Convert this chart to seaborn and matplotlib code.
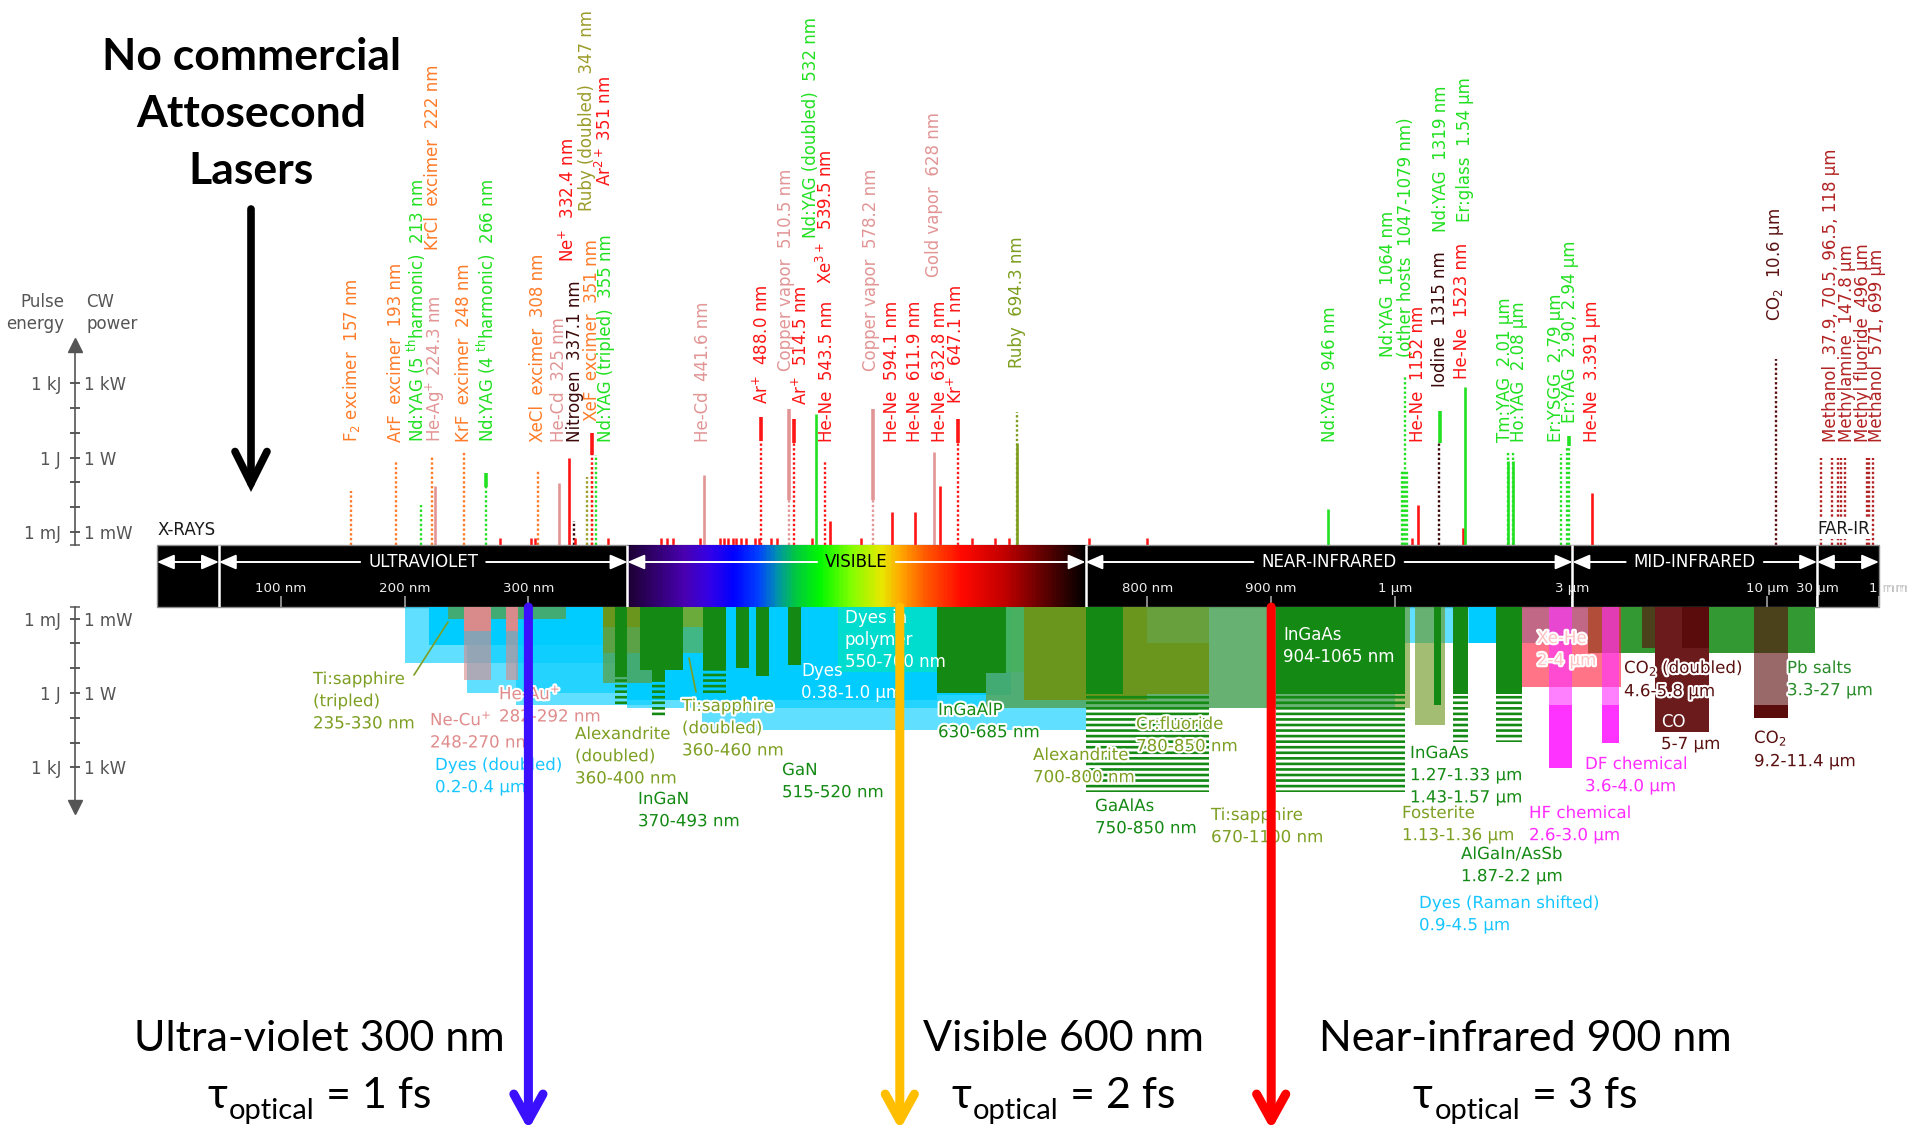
import numpy as np
import matplotlib
matplotlib.use("Agg")
import matplotlib.pyplot as plt
import matplotlib.patheffects as pe
import matplotlib.transforms as mtransforms
from matplotlib.colors import LinearSegmentedColormap, to_rgba
from matplotlib.patches import Rectangle
from matplotlib.ticker import FixedLocator, NullLocator, FixedFormatter
import seaborn as sns

# ============================ DATA ============================
# --- upper panel: individual laser lines (wavelength in nm, log10 of power/energy)
LINE_NM = [157, 193, 213, 222, 224.3, 248, 266, 308, 325, 332.4, 337.1, 347, 351, 351, 355,
           441.6, 488.0, 510.5, 514.5, 532, 539.5, 543.5, 578.2, 594.1, 611.9, 628, 632.8, 647.1, 694.3,
           946, 1047, 1053, 1064, 1079, 1152, 1315, 1319, 1523, 1540, 2010, 2080, 2790, 2900, 2940, 3391,
           10600, 37900, 70500, 96500, 118000, 147800, 496000, 571000, 699000]
LINE_KIND = ['exc', 'exc', 'nd', 'exc', 'pk', 'exc', 'nd', 'exc', 'pk', 'rd', 'dk', 'rb2', 'exc', 'rd', 'nd',
             'pk', 'rd', 'pk', 'rd', 'nd', 'rd', 'rd', 'pk', 'rd', 'rd', 'pk', 'rd', 'rd', 'rb',
             'nd', 'nd', 'nd', 'nd', 'nd', 'rd', 'dk', 'nd', 'rd', 'nd', 'nd', 'nd', 'nd', 'nd', 'nd', 'rd',
             'co2', 'far', 'far', 'far', 'far', 'far', 'far', 'far', 'far']
N = np.nan
B = -99  # "from the bar"
LINE_SOLID_LO = [N, N, N, N, B, N, -1.2, N, B, B, N, N, N, 0.1, N,
                 B, 0.67, -1.7, 0.6, B, N, B, -1.7, B, B, B, B, 0.6, B,
                 B, N, N, N, N, B, N, 0.6, B, B, B, B, N, N, 0.46, B,
                 N, N, N, N, N, N, N, N, N]
LINE_SOLID_HI = [N, N, N, N, -1.15, N, -0.62, N, -1.02, -0.02, N, N, N, 1.0, N,
                 -0.70, 1.64, 1.96, 1.56, 1.76, N, -2.56, 1.96, -2.19, -2.19, 0.23, -1.15, 1.56, 0.6,
                 -2.07, N, N, N, N, -1.9, N, 1.89, -2.84, 2.83, -0.14, -0.14, N, N, 0.87, -1.43,
                 N, N, N, N, N, N, N, N, N]
LINE_DOT_HI = [-1.35, -0.18, -1.9, 0.02, N, 0.27, -1.2, -0.54, N, N, -2.56, -0.78, -0.26, 0.1, 0.1,
               N, 0.67, -1.7, 0.6, N, -0.18, N, -1.7, N, N, N, N, 0.6, 1.84,
               N, -0.54, -0.54, 3.33, -0.54, N, 0.6, N, N, N, 0.25, 0.25, 0.15, 0.46, 0.46, N,
               3.98, -0.02, -0.02, -0.02, -0.02, -0.02, -0.02, -0.02, -0.02]
WEAK_NM = [277, 302, 305, 338, 364, 407, 412, 417, 439, 455, 458, 461, 465, 468, 472, 476,
           483, 486, 496, 501, 529, 569, 658, 677, 688, 753, 800, 1110]
WEAK_TOP = -3.25

# --- upper panel labels
LABEL_TEXT = ["F$_2$ excimer  157 nm", "ArF  excimer  193 nm", "Nd:YAG (5 $^{\\mathrm{th}}$harmonic)  213 nm",
              "He-Ag$^{+}$ 224.3 nm", "KrCl  excimer  222 nm", "KrF  excimer  248 nm",
              "Nd:YAG (4 $^{\\mathrm{th}}$harmonic)  266 nm", "XeCl  excimer  308 nm", "He-Cd  325 nm",
              "Nitrogen  337.1 nm", "Ne$^{+}$  332.4 nm", "Ruby (doubled)  347 nm", "Ar$^{2+}$ 351 nm",
              "XeF  excimer  351 nm", "Nd:YAG (tripled)  355 nm", "He-Cd  441.6 nm", "Ar$^{+}$  488.0 nm",
              "Copper vapor  510.5 nm", "Ar$^{+}$  514.5 nm", "Nd:YAG (doubled)  532 nm", "He-Ne  543.5 nm",
              "Xe$^{3+}$  539.5 nm", "Copper vapor  578.2 nm", "He-Ne  594.1 nm", "He-Ne  611.9 nm",
              "Gold vapor  628 nm", "He-Ne  632.8 nm", "Kr$^{+}$  647.1 nm", "Ruby  694.3 nm",
              "Nd:YAG  946 nm", "Nd:YAG  1064 nm\n(other hosts  1047-1079 nm)", "He-Ne  1152 nm",
              "Iodine  1315 nm", "Nd:YAG  1319 nm", "He-Ne  1523 nm", "Er:glass  1.54 µm",
              "Tm:YAG  2.01 µm", "Ho:YAG  2.08 µm", "Er:YSGG  2.79 µm", "Er:YAG  2.90, 2.94 µm",
              "He-Ne  3.391 µm", "CO$_2$  10.6 µm", "Methanol  37.9, 70.5, 96.5, 118 µm",
              "Methylamine  147.8 µm", "Methyl fluoride  496 µm", "Methanol  571, 699 µm"]
LABEL_NM = [157, 193, 213, 224.3, 222, 248, 266, 308, 325, 337.1, 332.4, 347, 351, 351, 355, 441.6, 488.0,
            510.5, 514.5, 532, 543.5, 539.5, 578.2, 594.1, 611.9, 628, 632.8, 647.1, 694.3, 946, 1064, 1152,
            1315, 1319, 1523, 1540, 2010, 2080, 2790, 2940, 3391, 10600, 37900, 147800, 496000, 699000]
LABEL_KIND = ['exc', 'exc', 'nd', 'pk', 'exc', 'exc', 'nd', 'exc', 'pk', 'dk', 'rd', 'rb2', 'rd', 'exc', 'nd',
              'pk', 'rd', 'pk', 'rd', 'nd', 'rd', 'rd', 'pk', 'rd', 'rd', 'pk', 'rd', 'rd', 'rb', 'nd', 'nd',
              'rd', 'dk', 'nd', 'rd', 'nd', 'nd', 'nd', 'nd', 'nd', 'rd', 'co2', 'far', 'far', 'far', 'far']

# --- lower panel: gain-medium tuning ranges (nm, log10 power; None = from the bar)
LOW_W0 = [380, 440, 200, 250, 290, 900, 220, 380, 630, 1580, 550, 670, 235, 360, 360, 360, 425,
          248, 248, 282, 282, 700, 780, 780, 370, 370, 390, 400, 400, 441, 441, 468, 484, 510,
          630, 670, 750, 750, 904, 904, 1130, 1270, 1430, 1430, 1870, 1870, 3300, 2200, 2600, 2600,
          3600, 3600, 4600, 5000, 5900, 9200, 9200]
LOW_W1 = [1000, 750, 400, 400, 400, 4500, 400, 630, 690, 1870, 700, 1100, 330, 460, 400, 400, 441,
          270, 270, 292, 292, 800, 850, 850, 380, 380, 425, 410, 410, 460, 460, 478, 494, 520,
          670, 686, 780, 850, 1065, 1065, 1360, 1330, 1570, 1570, 2200, 2200, 27000, 4050, 3000, 3000,
          4000, 4000, 5800, 7000, 7000, 11400, 11400]
LOW_TOP = [None, None, None, None, None, None, None, None, None, None, None, None, None, None, None, None, None,
           None, -2.5, None, -2.5, None, None, -2.0, None, -0.64, None, None, -0.52, None, -0.92, None, None, None,
           None, None, None, 0.04, None, 0.04, None, None, None, 0.04, None, 0.04, None, None, None, 0.49,
           None, 0.49, None, None, None, None, 0.49]
LOW_BOT = [0.6, 1.5, -1.21, 0.0, 0.49, -2.0, -1.93, 0.29, 0.08, -2.0, -0.84, 0.61, -3.0, -1.61, -2.66, -0.40, -2.66,
           -2.5, -0.52, -2.5, -0.52, 0.29, -2.0, 0.04, -0.64, 0.49, -0.92, -0.52, 1.01, -0.92, 0.08, -1.0, -0.68, -1.13,
           0.0, -0.8, 0.04, 4.0, 0.04, 4.0, 1.29, 0.49, 0.04, 1.98, 0.04, 1.98, -1.61, -0.24, 0.49, 3.03,
           0.49, 2.02, -1.81, 1.58, -1.8, 0.49, 1.01]
LOW_KIND = ['cyan', 'cyan', 'cyan', 'cyan', 'cyan', 'cyan', 'cyan', 'cyan', 'cyan', 'cyan', 'teal', 'olive', 'olive',
            'olive_l', 'olive', 'olive', 'olive_l', 'pink', 'pink', 'pink', 'pink', 'olive', 'olive', 'olive',
            'green', 'green', 'green', 'green', 'green', 'green', 'green', 'green', 'green', 'green',
            'green', 'green', 'green', 'green', 'green', 'green', 'olive', 'green', 'green', 'green', 'green', 'green',
            'pb', 'red', 'mag', 'mag', 'mag', 'mag', 'maroon', 'maroon_l', 'maroon', 'maroon', 'maroon']
LOW_FILL = ['check', 'check', 'check', 'check', 'check', 'check', 'solid', 'solid', 'solid', 'solid', 'check', 'check',
            'check', 'check', 'solid', 'check', 'solid', 'solid', 'check', 'solid', 'check', 'solid', 'check', 'solid',
            'solid', 'stripe', 'solid', 'solid', 'stripe', 'solid', 'stripe', 'solid', 'solid', 'solid',
            'solid', 'solid', 'solid', 'stripe', 'solid', 'stripe', 'check', 'solid', 'solid', 'stripe', 'solid', 'stripe',
            'solid', 'check', 'check', 'solid', 'check', 'solid', 'check', 'solid', 'solid', 'check', 'solid']

LOW_LABELS = ["Ti:sapphire\n(tripled)\n235-330 nm", "Ne-Cu$^{+}$\n248-270 nm", "He-Au$^{+}$\n282-292 nm",
              "Dyes (doubled)\n0.2-0.4 µm", "Alexandrite\n(doubled)\n360-400 nm", "InGaN\n370-493 nm",
              "Ti:sapphire\n(doubled)\n360-460 nm", "GaN\n515-520 nm", "Dyes\n0.38-1.0 µm",
              "Dyes in\npolymer\n550-700 nm", "InGaAlP\n630-685 nm", "Alexandrite\n700-800 nm",
              "Cr:fluoride\n780-850 nm", "GaAlAs\n750-850 nm", "Ti:sapphire\n670-1100 nm",
              "InGaAs\n904-1065 nm", "InGaAs\n1.27-1.33 µm\n1.43-1.57 µm", "Fosterite\n1.13-1.36 µm",
              "AlGaIn/AsSb\n1.87-2.2 µm", "Dyes (Raman shifted)\n0.9-4.5 µm", "Xe-He\n2-4 µm",
              "HF chemical\n2.6-3.0 µm", "DF chemical\n3.6-4.0 µm", "CO$_2$ (doubled)\n4.6-5.8 µm",
              "CO", "5-7 µm", "CO$_2$\n9.2-11.4 µm", "Pb salts\n3.3-27 µm"]
LOW_LABEL_KIND = ['olive_t', 'pink_t', 'pink_t', 'cyan_t', 'olive_t', 'green_t', 'olive_t', 'green_t', 'white',
                  'white', 'green_t', 'olive_t', 'olive_t', 'green_t', 'olive_t', 'white', 'green_t', 'olive_t',
                  'green_t', 'cyan_t', 'xehe_t', 'mag_t', 'mag_t', 'maroon_t', 'white', 'maroon_t', 'maroon_t', 'pb_t']

# --- spectral bar
REGION_EDGES = [0, 50, 380, 750, 3000, 30000, 1e6]
REGION_NAMES = ["", "ULTRAVIOLET", "VISIBLE", "NEAR-INFRARED", "MID-INFRARED", ""]
TICK_NM = [100, 200, 300, 400, 500, 600, 700, 800, 900, 1000, 3000, 10000, 30000, 1e6]
TICK_LABELS = ["100 nm", "200 nm", "300 nm", "400 nm", "500 nm", "600 nm", "700 nm", "800 nm", "900 nm",
               "1 µm", "3 µm", "10 µm", "30 µm", "1 mm"]
VIS_STOPS = [(380, '#1c0033'), (400, '#30006a'), (425, '#4800b0'), (445, '#3400e6'), (465, '#0000ff'),
             (485, '#0040ff'), (500, '#0090b0'), (515, '#00c840'), (535, '#00f800'), (560, '#80ff00'),
             (585, '#e8e800'), (600, '#ffa800'), (620, '#ff5a00'), (650, '#ff0800'), (685, '#c00000'),
             (718, '#5a0000'), (750, '#000000')]

# --- power axis
POWER_EXP = [-3, -2, -1, 0, 1, 2, 3]
ENERGY_LABELS = ["1 mJ", "", "", "1 J", "", "", "1 kJ"]
CW_LABELS = ["1 mW", "", "", "1 W", "", "", "1 kW"]

# --- annotations
TITLE_LINES = ["No commercial", "Attosecond", "Lasers"]
MARK_NM = [300, 600, 900]
MARK_NAMES = ["Ultra-violet 300 nm", "Visible 600 nm", "Near-infrared 900 nm"]
MARK_FS = ["1", "2", "3"]

# ============================ STYLE / LAYOUT ============================
sns.set_theme(style="white")
plt.rcParams["font.family"] = ["DejaVu Sans"]
plt.rcParams["mathtext.fontset"] = "dejavusans"
plt.rcParams["hatch.linewidth"] = 1.9

W_PX, H_PX, DPI = 1909, 1134, 100
BAR_TOP, BAR_BOT = 545, 607
PX_DEC = 24.8
Y1M_TOP, Y1M_BOT = 532.0, 618.5
AXIS_XPX = 75
GREY = '#555555'
CHECK_ALPHA = 0.62

LINE_COLORS = {'exc': '#ff7b29', 'nd': '#22e022', 'pk': '#e29595', 'rd': '#ff1515', 'dk': '#3a0808',
               'rb2': '#9c9c2c', 'rb': '#7d9e1f', 'co2': '#5c1111', 'far': '#b22222'}
LOW_COLORS = {'cyan': '#00ccff', 'teal': '#00e8b0', 'olive': '#6b961e', 'olive_l': '#6aab3c', 'pink': '#d98a8a',
              'green': '#148a14', 'pb': '#339933', 'red': '#ff1f3d', 'mag': '#ff33ff', 'maroon': '#5a0c0c',
              'maroon_l': '#6b1b1b'}
TEXT_COLORS = {'olive_t': '#7d9f22', 'pink_t': '#e08c8c', 'cyan_t': '#18c6ff', 'green_t': '#148a14',
               'white': '#ffffff', 'xehe_t': '#ffc4c4', 'mag_t': '#ff2cff', 'maroon_t': '#5a1010', 'pb_t': '#2a8c2a'}

# label layout (pixels)
LABEL_BOTTOM_PX = [442, 442, 442, 442, 250, 442, 442, 442, 442, 442, 262, 211, 186, 421, 442, 442, 404,
                   371, 405, 238, 442, 284, 371, 442, 442, 277, 442, 404, 368, 442, 357, 442, 387, 232,
                   379, 222, 442, 442, 442, 423, 442, 321, 442, 442, 442, 442]
LABEL_DX_PX = [0, 0, -4, 1, 1, 0, 0, 0, 0, 1, 0, 0, 13, 0, 10, -1, 1, -3, 7, -5, -3, 1, -2, 0, 0, 0, 0,
               -2, 0, 2, -8, 0, 1, 1, -1, 0, -3, 6, -5, 1, 0, -1, 10, 2, -4, 4]
LOW_LABEL_XY = [(313, 670), (430, 710), (499, 684), (435, 756), (575, 725), (638, 790), (682, 697),
                (782, 761), (801, 662), (845, 609), (938, 701), (1033, 746), (1136, 715), (1095, 797),
                (1211, 806), (1283, 626), (1410, 744), (1402, 804), (1461, 845), (1419, 894), (1537, 629),
                (1529, 804), (1585, 755), (1624, 657), (1661, 713), (1661, 735), (1754, 728), (1787, 659)]


def _px_of_nm(w):
    w = np.atleast_1d(np.asarray(w, float))
    out = np.empty_like(w)
    lin = w <= 1000
    out[lin] = 157 + 1.238 * w[lin]
    m1 = (w > 1000) & (w <= 12000)
    out[m1] = 1395 + 372 * np.log10(w[m1] / 1000)
    m2 = (w > 12000) & (w <= 30000)
    out[m2] = 1796.5 + 20.5 * np.log10(w[m2] / 12000) / np.log10(2.5)
    m3 = w > 30000
    out[m3] = 1817 + 40.7 * np.log10(w[m3] / 30000)
    return out


_W = np.unique(np.concatenate([np.linspace(-400, 1000, 15), np.geomspace(1000, 12000, 800),
                               np.geomspace(12000, 30000, 100), np.geomspace(30000, 1e7, 800)]))
_P = _px_of_nm(_W)


def fwd(w):
    return np.interp(np.asarray(w, float), _W, _P)


def inv(p):
    return np.interp(np.asarray(p, float), _P, _W)


fig = plt.figure(figsize=(W_PX / DPI, H_PX / DPI), dpi=DPI)
PX = mtransforms.Affine2D().scale(1 / W_PX, -1 / H_PX).translate(0, 1) + fig.transFigure

ax_top = fig.add_axes([0, 1 - BAR_TOP / H_PX, 1, BAR_TOP / H_PX])
ax_bar = fig.add_axes([0, 1 - BAR_BOT / H_PX, 1, (BAR_BOT - BAR_TOP) / H_PX])
ax_bot = fig.add_axes([0, 0, 1, 1 - BAR_BOT / H_PX])
for ax in (ax_top, ax_bar, ax_bot):
    ax.set_xscale('function', functions=(fwd, inv))
    ax.set_xlim(float(inv(0.0)), float(inv(W_PX)))
    ax.set_facecolor('none')
    for s in ax.spines.values():
        s.set_visible(False)
    ax.grid(False)

top_lo = -3 - (BAR_TOP - Y1M_TOP) / PX_DEC
top_hi = -3 + Y1M_TOP / PX_DEC
bot_top = -3 + (BAR_BOT - Y1M_BOT) / PX_DEC
bot_bot = -3 + (H_PX - Y1M_BOT) / PX_DEC
ax_top.set_yscale('log')
ax_top.set_ylim(10 ** top_lo, 10 ** top_hi)
ax_bot.set_yscale('log')
ax_bot.set_ylim(10 ** bot_bot, 10 ** bot_top)
ax_bar.set_ylim(0, 1)
for ax in (ax_top, ax_bot):
    ax.tick_params(axis='x', bottom=False, labelbottom=False, top=False)

BASE_T = 10 ** top_lo
BASE_B = 10 ** bot_top

# ---------------- upper lines ----------------
for w, k, slo, shi, dhi in zip(LINE_NM, LINE_KIND, LINE_SOLID_LO, LINE_SOLID_HI, LINE_DOT_HI):
    c = LINE_COLORS[k]
    if not np.isnan(dhi):
        ax_top.vlines(w, BASE_T, 10 ** dhi, colors=c, linestyles=(0, (1, 1)), lw=1.7, zorder=3)
    if not np.isnan(shi):
        lo = BASE_T if slo == B else 10 ** slo
        ax_top.vlines(w, lo, 10 ** shi, colors=c, lw=2.6 if slo != B else 1.9, zorder=4)
ax_top.vlines(WEAK_NM, BASE_T, 10 ** WEAK_TOP, colors=LINE_COLORS['rd'], lw=1.8, zorder=3)

for txt, w, k, bpx, dx in zip(LABEL_TEXT, LABEL_NM, LABEL_KIND, LABEL_BOTTOM_PX, LABEL_DX_PX):
    ax_top.annotate(txt, xy=(w, H_PX - bpx), xycoords=('data', 'figure pixels'),
                    xytext=(dx * 0.72, 0), textcoords='offset points', rotation=90,
                    ha='center', va='bottom', fontsize=12, color=LINE_COLORS[k],
                    multialignment='left', linespacing=0.95, annotation_clip=False)

# ---------------- lower rectangles ----------------
for w0, w1, t, b, k, f in zip(LOW_W0, LOW_W1, LOW_TOP, LOW_BOT, LOW_KIND, LOW_FILL):
    top = BASE_B if t is None else 10 ** t
    bot = 10 ** b
    c = LOW_COLORS[k]
    if f == 'solid':
        r = Rectangle((w0, top), w1 - w0, bot - top, facecolor=c, edgecolor='none', lw=0, zorder=2)
    elif f == 'check':
        r = Rectangle((w0, top), w1 - w0, bot - top, facecolor=to_rgba(c, CHECK_ALPHA), edgecolor='none',
                      lw=0, zorder=2)
    else:
        r = Rectangle((w0, top), w1 - w0, bot - top, facecolor='none', edgecolor=c, hatch='---', lw=0, zorder=2)
    ax_bot.add_patch(r)

halo = [pe.withStroke(linewidth=3, foreground='white')]
for txt, k, (x, y) in zip(LOW_LABELS, LOW_LABEL_KIND, LOW_LABEL_XY):
    ax_bot.text(x, y, txt, transform=PX, ha='left', va='top', fontsize=12, color=TEXT_COLORS[k],
                linespacing=1.3, zorder=5, path_effects=None if k == 'white' else halo)
# leader lines
ax_bot.plot([414, 448], [675, 622], transform=PX, color=TEXT_COLORS['olive_t'], lw=1.2, zorder=5)
ax_bot.plot([689, 696], [658, 692], transform=PX, color=TEXT_COLORS['olive_t'], lw=1.2, zorder=5)


# ---------------- power axes ----------------
def power_axis(ax, lo_v, hi_v, arrow):
    bt = mtransforms.blended_transform_factory(ax.transAxes, ax.transData)
    sp = ax.spines['left']
    sp.set_visible(True)
    sp.set_position(('axes', AXIS_XPX / W_PX))
    sp.set_bounds(10 ** lo_v, 10 ** hi_v)
    sp.set_color(GREY)
    sp.set_linewidth(1.2)
    ticks = [10 ** lo_v] + [10.0 ** e for e in POWER_EXP]
    ax.yaxis.set_major_locator(FixedLocator(ticks))
    ax.yaxis.set_major_formatter(FixedFormatter([""] + ENERGY_LABELS))
    ax.yaxis.set_minor_locator(NullLocator())
    ax.tick_params(axis='y', which='major', left=True, direction='inout', length=7, width=1.1,
                   color=GREY, labelcolor=GREY, labelsize=12, pad=6.4)
    tw = ax.twinx()
    tw.set_yscale('log')
    tw.set_ylim(ax.get_ylim())
    tw.set_facecolor('none')
    for s in tw.spines.values():
        s.set_visible(False)
    tw.spines['right'].set_position(('axes', AXIS_XPX / W_PX))
    tw.yaxis.set_major_locator(FixedLocator([10.0 ** e for e in POWER_EXP]))
    tw.yaxis.set_major_formatter(FixedFormatter(CW_LABELS))
    tw.yaxis.set_minor_locator(NullLocator())
    tw.tick_params(axis='y', which='major', right=True, direction='inout', length=7, width=1.1,
                   color=GREY, labelcolor=GREY, labelsize=12, pad=3.0)
    tw.grid(False)
    ax.plot([AXIS_XPX / W_PX], [10 ** hi_v], marker=arrow, ms=10, color=GREY, transform=bt, clip_on=False,
            zorder=6)


power_axis(ax_top, top_lo, -3 + (Y1M_TOP - 345) / PX_DEC, '^')
power_axis(ax_bot, bot_top, -3 + (807 - Y1M_BOT) / PX_DEC, 'v')
fig.text(64, 313, "Pulse\nenergy", transform=PX, ha='right', va='center', fontsize=12, color=GREY,
         linespacing=1.3)
fig.text(86, 313, "CW\npower", transform=PX, ha='left', va='center', fontsize=12, color=GREY,
         linespacing=1.3)

# ---------------- spectral bar ----------------
bar_rect = Rectangle((REGION_EDGES[0], 0), REGION_EDGES[-1] - REGION_EDGES[0], 1, facecolor='black',
                     edgecolor='#8c8c8c', lw=1.0, zorder=0, clip_on=False)
ax_bar.add_patch(bar_rect)
vis_cmap = LinearSegmentedColormap.from_list('vis', [((nm - 380) / 370, c) for nm, c in VIS_STOPS])
vis_nm = np.arange(380, 750, 1.0)
ax_bar.bar(vis_nm, 1, width=1.3, bottom=0, align='edge', color=vis_cmap((vis_nm - 380) / 370), lw=0,
           zorder=1)
ax_bar.vlines(REGION_EDGES[1:-1], 0, 1, colors='white', lw=1.8, zorder=3)
ax_bar.set_xticks(TICK_NM)
ax_bar.set_xticklabels(TICK_LABELS[:-1] + [""])
ax_bar.xaxis.set_minor_locator(NullLocator())
ax_bar.tick_params(axis='x', which='major', bottom=True, direction='in', length=8, width=1.1, color='#b0b0b0',
                   labelcolor='#ececec', labelsize=9.6, pad=-18)
ax_bar.tick_params(axis='y', left=False, labelleft=False)
for lab in ax_bar.get_xticklabels():
    lab.set_zorder(5)

# "1 mm" label partly outside the bar
mm_x = float(fwd(1e6)) - 10
ax_bar.text(mm_x, 589, TICK_LABELS[-1], transform=PX, ha='left', va='center', fontsize=9.6, color='#333333',
            zorder=5)
t_mm = ax_bar.text(mm_x, 589, TICK_LABELS[-1], transform=PX, ha='left', va='center', fontsize=9.6,
                   color='#ececec', zorder=6)
t_mm.set_clip_path(bar_rect)

renderer = fig.canvas.get_renderer()
ARW_Y = (BAR_BOT - 562) / (BAR_BOT - BAR_TOP)
ybt = mtransforms.blended_transform_factory(ax_bar.transData, ax_bar.transAxes)
ap = dict(color='white', lw=1.4, shrinkA=0, shrinkB=0, mutation_scale=16)
for a, b, name in zip(REGION_EDGES[:-1], REGION_EDGES[1:], REGION_NAMES):
    if not name:
        ax_bar.annotate('', xy=(b, ARW_Y), xytext=(a, ARW_Y), xycoords=ybt, textcoords=ybt,
                        arrowprops=dict(arrowstyle='<|-|>,head_length=0.65,head_width=0.28', **ap))
        continue
    xc = float(inv((fwd(a) + fwd(b)) / 2))
    t = ax_bar.text(xc, ARW_Y, name, transform=ybt, ha='center', va='center', fontsize=12,
                    color='black' if name == 'VISIBLE' else 'white', zorder=5)
    bb = t.get_window_extent(renderer)
    xl, xr = float(inv(bb.x0 - 8)), float(inv(bb.x1 + 8))
    ax_bar.annotate('', xy=(a, ARW_Y), xytext=(xl, ARW_Y), xycoords=ybt, textcoords=ybt,
                    arrowprops=dict(arrowstyle='-|>,head_length=0.65,head_width=0.28', **ap))
    ax_bar.annotate('', xy=(b, ARW_Y), xytext=(xr, ARW_Y), xycoords=ybt, textcoords=ybt,
                    arrowprops=dict(arrowstyle='-|>,head_length=0.65,head_width=0.28', **ap))

ax_top.annotate("X-RAYS", xy=(REGION_EDGES[0], H_PX - 530), xycoords=('data', 'figure pixels'),
                ha='left', va='center', fontsize=12, color='#1a1a1a', annotation_clip=False)
ax_top.annotate("FAR-IR", xy=(REGION_EDGES[-2], H_PX - 529), xycoords=('data', 'figure pixels'),
                ha='left', va='center', fontsize=12, color='#1a1a1a', annotation_clip=False, zorder=6,
                bbox=dict(facecolor='white', edgecolor='none', pad=1.0))

# ---------------- big annotations ----------------
for i, line in enumerate(TITLE_LINES):
    fig.text(251, 70 + 57 * i, line, transform=PX, ha='center', va='baseline', fontsize=32,
             fontweight='bold', family=['Lato', 'DejaVu Sans'], color='black')
ax_top.annotate('', xy=(251, 492), xycoords=PX, xytext=(251, 209), textcoords=PX,
                arrowprops=dict(arrowstyle='->,head_length=2.3,head_width=1.15', lw=5.5, color='black',
                                shrinkA=0, shrinkB=0, mutation_scale=10, joinstyle='miter'))

MARK_COLORS = ['#3a10ff', '#ffbf00', '#ff0000']
MARK_TEXT_CX = [319, 1063, 1525]
for w, c in zip(MARK_NM, MARK_COLORS):
    ax_bot.annotate('', xy=(w, 0.008), xycoords=('data', 'axes fraction'), xytext=(w, 1.0),
                    textcoords=('data', 'axes fraction'),
                    arrowprops=dict(arrowstyle='->,head_length=1.9,head_width=1.05', lw=6.5, color=c,
                                    shrinkA=0, shrinkB=0, mutation_scale=10), zorder=9)

for name, fs, cx in zip(MARK_NAMES, MARK_FS, MARK_TEXT_CX):
    fig.text(cx, 1051, name, transform=PX, ha='center', va='baseline', fontsize=31,
             family=['Lato', 'DejaVu Sans'], color='black')
    t1 = fig.text(0, 1108, "τ", transform=PX, ha='left', va='baseline', fontsize=31,
                  family=['Lato', 'DejaVu Sans'], color='black')
    t2 = fig.text(0, 1119, "optical", transform=PX, ha='left', va='baseline', fontsize=21,
                  family=['Lato', 'DejaVu Sans'], color='black')
    t3 = fig.text(0, 1108, " = " + fs + " fs", transform=PX, ha='left', va='baseline', fontsize=31,
                  family=['Lato', 'DejaVu Sans'], color='black')
    ws = [t.get_window_extent(renderer).width for t in (t1, t2, t3)]
    x0 = cx - (sum(ws) + 2) / 2
    t1.set_position((x0, 1108))
    t2.set_position((x0 + ws[0] + 2, 1119))
    t3.set_position((x0 + ws[0] + ws[1] + 2, 1108))

fig.savefig("out.png", dpi=DPI)
